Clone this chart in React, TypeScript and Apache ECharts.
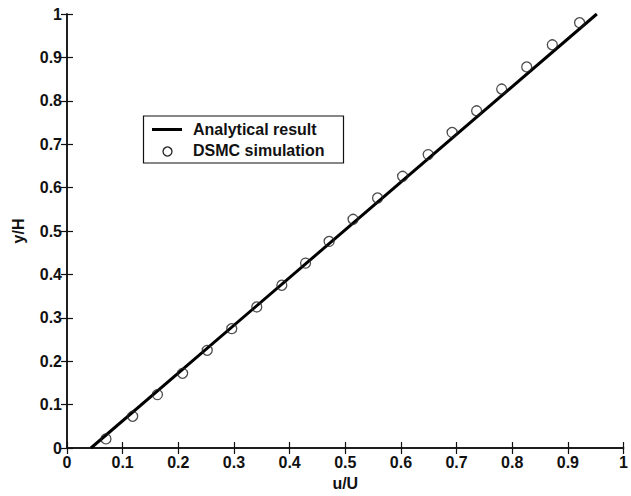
import React, { useEffect, useRef } from "react";
import * as echarts from "echarts";

const xTicks = [0, 0.1, 0.2, 0.3, 0.4, 0.5, 0.6, 0.7, 0.8, 0.9, 1];
const yTicks = [0, 0.1, 0.2, 0.3, 0.4, 0.5, 0.6, 0.7, 0.8, 0.9, 1];

const analyticalU = [0.043, 0.952];
const analyticalY = [0, 1];

const dsmcU = [0.07, 0.118, 0.1625, 0.2077, 0.252, 0.296, 0.341, 0.386, 0.4286, 0.471, 0.514, 0.558, 0.603, 0.649, 0.692, 0.736, 0.781, 0.826, 0.872, 0.921];
const dsmcY = [0.021, 0.073, 0.123, 0.172, 0.225, 0.275, 0.325, 0.375, 0.426, 0.476, 0.527, 0.576, 0.626, 0.676, 0.727, 0.777, 0.827, 0.878, 0.929, 0.98];

const legendNames = ["Analytical result", "DSMC simulation"];
const xName = "u/U";
const yName = "y/H";

const FONT = "'Liberation Sans', Arial, Helvetica, sans-serif";
const INK = "#111";

export default function App() {
  const ref = useRef<HTMLDivElement>(null);
  useEffect(() => {
    const chart = echarts.init(ref.current!, null, { renderer: "svg" });
    const fmt = (v: number) => (v === 0 ? "0" : v === 1 ? "1" : String(Math.round(v * 10) / 10));
    const baseAxis = {
      type: "value",
      min: 0,
      max: 1,
      interval: 0.1,
      splitLine: { show: false },
      axisLine: { show: true, lineStyle: { color: INK, width: 1.5 } },
      axisTick: { show: true, inside: true, length: 6, lineStyle: { color: INK, width: 1.2 } },
    };
    chart.setOption({
      animation: false,
      backgroundColor: "#fff",
      grid: { left: 67, right: 4, top: 14, bottom: 47, containLabel: false },
      xAxis: [
        {
          ...baseAxis,
          position: "bottom",
          name: xName,
          nameLocation: "middle",
          nameGap: 27,
          nameTextStyle: { color: INK, fontFamily: FONT, fontWeight: "bold", fontSize: 16 },
          axisLabel: { show: true, color: INK, fontFamily: FONT, fontWeight: "bold", fontSize: 16, margin: 6, formatter: fmt, showMinLabel: true, showMaxLabel: true },
          data: xTicks,
        },
        { ...baseAxis, position: "top", axisLabel: { show: false } },
      ],
      yAxis: [
        {
          ...baseAxis,
          position: "left",
          name: yName,
          nameLocation: "middle",
          nameGap: 41,
          nameRotate: 90,
          nameTextStyle: { color: INK, fontFamily: FONT, fontWeight: "bold", fontSize: 16 },
          axisLabel: { show: true, color: INK, fontFamily: FONT, fontWeight: "bold", fontSize: 16, margin: 5, formatter: fmt, showMinLabel: true, showMaxLabel: true },
          data: yTicks,
        },
        { ...baseAxis, position: "right", axisLabel: { show: false } },
      ],
      series: [
        {
          name: legendNames[0],
          type: "line",
          data: analyticalU.map((u, i) => [u, analyticalY[i]]),
          showSymbol: false,
          symbol: "none",
          lineStyle: { color: "#000", width: 3 },
          z: 3,
        },
        {
          name: legendNames[1],
          type: "scatter",
          data: dsmcU.map((u, i) => [u, dsmcY[i]]),
          symbol: "circle",
          symbolSize: 10,
          itemStyle: { color: "transparent", borderColor: "#222", borderWidth: 1.3 },
          z: 4,
        },
      ],
      graphic: [
        {
          type: "rect",
          shape: { x: 143.5, y: 116, width: 200, height: 47 },
          style: { fill: "#fff", stroke: INK, lineWidth: 1.2 },
          z: 10,
        },
        {
          type: "line",
          shape: { x1: 152, y1: 129.5, x2: 182, y2: 129.5 },
          style: { stroke: "#000", lineWidth: 3 },
          z: 11,
        },
        {
          type: "circle",
          shape: { cx: 167.5, cy: 151.5, r: 4.5 },
          style: { fill: "transparent", stroke: "#222", lineWidth: 1.3 },
          z: 11,
        },
        {
          type: "text",
          x: 193,
          y: 129.5,
          style: { text: legendNames[0], fill: INK, font: `bold 16px ${FONT}`, verticalAlign: "middle", textAlign: "left" },
          z: 11,
        },
        {
          type: "text",
          x: 193,
          y: 150.5,
          style: { text: legendNames[1], fill: INK, font: `bold 16px ${FONT}`, verticalAlign: "middle", textAlign: "left" },
          z: 11,
        },
      ],
    });
    return () => chart.dispose();
  }, []);
  return <div ref={ref} style={{ width: 631, height: 496, position: "fixed", left: 0, top: 0 }} />;
}
